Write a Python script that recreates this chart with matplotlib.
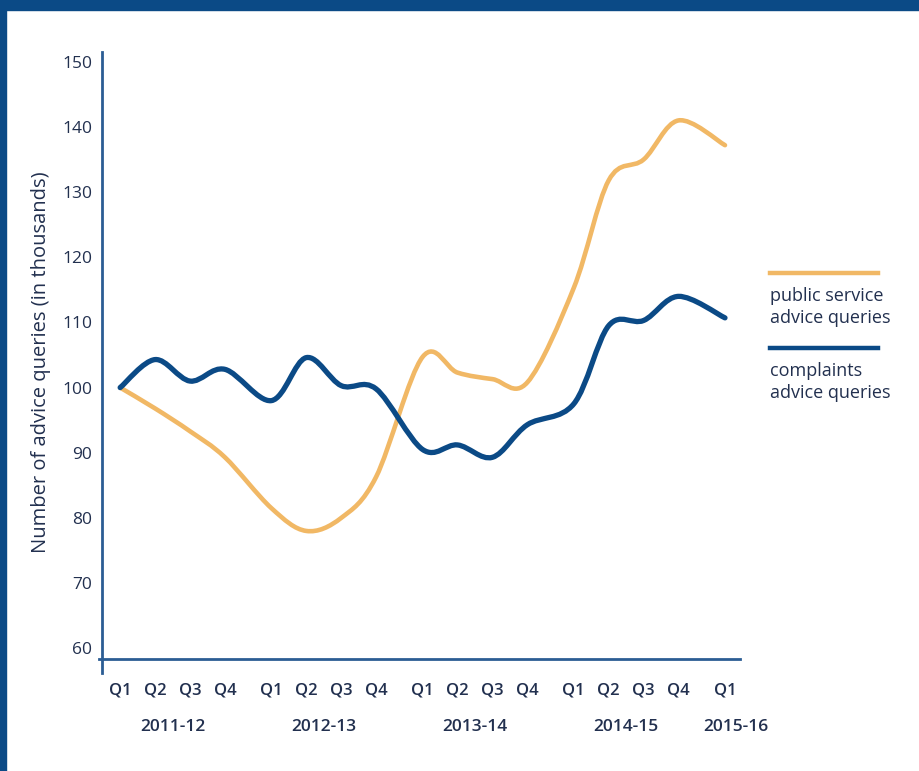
import numpy as np
import matplotlib
matplotlib.use("Agg")
import matplotlib.pyplot as plt
from matplotlib.path import Path
from matplotlib.patches import PathPatch, Rectangle

plt.rcParams["font.family"] = ["Open Sans", "DejaVu Sans"]

years = ["2011-12", "2012-13", "2013-14", "2014-15", "2015-16"]
quarters = ["Q1", "Q2", "Q3", "Q4"] * 4 + ["Q1"]
public_service = [100, 96.8, 93.3, 89.3, 81.5, 78.0, 80.0, 86.3, 104.7, 102.3,
                  101.3, 100.8, 115.3, 131.8, 135.0, 141.0, 137.2]
complaints = [100, 104.3, 101.0, 102.8, 98.0, 104.6, 100.3, 99.8, 90.5, 91.2,
              89.3, 94.3, 97.5, 109.5, 110.3, 114.0, 110.7]

NAVY = "#0b4a86"
ORANGE = "#f1b865"
TEXT = "#22304f"

# quarters sit in year blocks, with a wider gap between financial years
YEAR_W = 4.33
xpos = np.array([(i // 4) * YEAR_W + (i % 4) for i in range(len(quarters))])


def smooth_path(x, y, tension=0.5):
    """Catmull-Rom through the points, emitted as cubic Bezier segments."""
    pts = np.column_stack([x, y])
    verts = [pts[0]]
    codes = [Path.MOVETO]
    n = len(pts)
    for i in range(n - 1):
        p0 = pts[max(i - 1, 0)]
        p1, p2 = pts[i], pts[i + 1]
        p3 = pts[min(i + 2, n - 1)]
        c1 = p1 + (p2 - p0) * tension / 3
        c2 = p2 - (p3 - p1) * tension / 3
        verts += [c1, c2, p2]
        codes += [Path.CURVE4] * 3
    return Path(verts, codes)


fig = plt.figure(figsize=(9.2, 7.71), dpi=100)
fig.patch.set_facecolor("white")
# frame strips
fig.add_artist(Rectangle((0, 1 - 10 / 771), 1, 10 / 771, transform=fig.transFigure,
                         color=NAVY, zorder=0))
fig.add_artist(Rectangle((0, 0), 6 / 920, 1, transform=fig.transFigure,
                         color=NAVY, zorder=0))

ax = fig.add_axes([102 / 920, 1 - 673 / 771, (740 - 102) / 920, (673 - 52) / 771])
ax.set_xlim(-0.52, 17.75)
ax.set_ylim(56.2, 151.5)

for vals, col, lw in [(public_service, ORANGE, 3.3), (complaints, NAVY, 3.8)]:
    ax.add_patch(PathPatch(smooth_path(xpos, vals), facecolor="none", edgecolor=col,
                           lw=lw, capstyle="round", joinstyle="round"))

for s in ["top", "right"]:
    ax.spines[s].set_visible(False)
ax.spines["left"].set_color("#2b5d94")
ax.spines["left"].set_linewidth(2)
ax.spines["bottom"].set_color("#2b5d94")
ax.spines["bottom"].set_linewidth(2)
ax.spines["bottom"].set_position(("data", 58.4))
ax.spines["bottom"].set_bounds(-0.6, 17.75)

ax.set_yticks(range(60, 151, 10))
ax.tick_params(axis="y", length=0, pad=7, labelsize=12.5, labelcolor=TEXT)
ax.set_xticks(xpos)
ax.set_xticklabels(quarters)
ax.tick_params(axis="x", length=0, pad=17, labelsize=12, labelcolor=TEXT)
for lab in ax.get_xticklabels():
    lab.set_fontweight("semibold")

# financial year labels under the quarters
for k, yr in enumerate(years):
    xc = k * YEAR_W + (1.5 if k < 4 else 0.3)
    ax.text(xc, -0.087, yr, transform=ax.get_xaxis_transform(), ha="center",
            va="center", fontsize=12.5, fontweight="semibold", color=TEXT)

ax.set_ylabel("Number of advice queries (in thousands)", fontsize=14.5, color=TEXT,
              labelpad=8)

# legend at the right
lx0, lx1 = 770 / 920, 878 / 920
for y_line, col, lines in [(273, ORANGE, ["public service", "advice queries"]),
                           (348, NAVY, ["complaints", "advice queries"])]:
    fig.add_artist(plt.Line2D([lx0, lx1], [1 - y_line / 771] * 2, color=col, lw=3.2,
                              transform=fig.transFigure))
    for j, t in enumerate(lines):
        fig.text(lx0, 1 - (y_line + 23 + 22 * j) / 771, t, fontsize=13, color=TEXT,
                 ha="left", va="center")

fig.savefig("out.png", dpi=100)
